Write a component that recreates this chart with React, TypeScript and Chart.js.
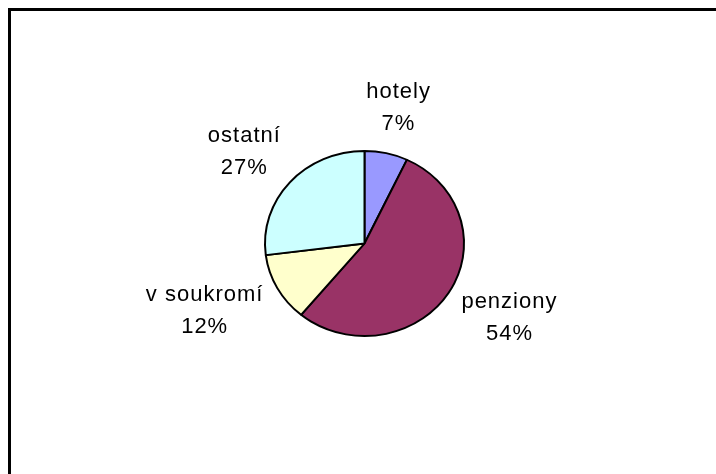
import React, { useEffect, useRef } from "react";
import { Chart, registerables } from "chart.js";

Chart.register(...registerables);

// ---- data ----
const categories = ["hotely", "penziony", "v soukromí", "ostatní"];
const shares = [7, 54, 12, 27];
const sliceColors = ["#9999FF", "#993366", "#FFFFCC", "#CCFFFF"];

const Y_SQUASH = 0.93;
const LABEL_FONT = "22px 'Liberation Sans', Arial, sans-serif";

const squashPlugin = {
  id: "squash",
  beforeDatasetsDraw(chart: any) {
    const arc = chart.getDatasetMeta(0).data[0];
    if (!arc) return;
    const { x, y } = arc.getProps(["x", "y"], true);
    const ctx = chart.ctx;
    ctx.save();
    ctx.translate(x, y);
    ctx.scale(1, Y_SQUASH);
    ctx.translate(-x, -y);
  },
  afterDatasetsDraw(chart: any) {
    if (!chart.getDatasetMeta(0).data[0]) return;
    chart.ctx.restore();
  },
};

const labelPlugin = {
  id: "outLabels",
  afterDraw(chart: any) {
    const ctx = chart.ctx;
    const meta = chart.getDatasetMeta(0);
    const values: number[] = chart.data.datasets[0].data;
    const total = values.reduce((a, b) => a + b, 0);
    ctx.save();
    ctx.font = LABEL_FONT;
    try {
      (ctx as any).letterSpacing = "1px";
    } catch (e) {}
    ctx.fillStyle = "#000";
    ctx.textAlign = "center";
    ctx.textBaseline = "middle";
    meta.data.forEach((el: any, i: number) => {
      const { x, y, startAngle, endAngle, outerRadius } = el.getProps(
        ["x", "y", "startAngle", "endAngle", "outerRadius"],
        true
      );
      const mid = (startAngle + endAngle) / 2;
      const dx = Math.cos(mid);
      const dy = Math.sin(mid);
      const rx = outerRadius + 1;
      const ry = rx * Y_SQUASH;
      const lines = [
        String(chart.data.labels[i]),
        Math.round((values[i] / total) * 100) + "%",
      ];
      const w = Math.max(...lines.map((l) => ctx.measureText(l).width));
      const h = 48;
      const k = 1.23;
      const cx = x + dx * rx * k + (dx * w) / 2;
      const cy = y + dy * ry * k + (dy * h) / 2;
      ctx.fillText(lines[0], cx, cy - 16);
      ctx.fillText(lines[1], cx, cy + 16);
    });
    ctx.restore();
  },
};

const framePlugin = {
  id: "frame",
  afterDraw(chart: any) {
    const ctx = chart.ctx;
    ctx.save();
    ctx.strokeStyle = "#000";
    ctx.lineWidth = 3;
    ctx.strokeRect(9.5, 9.5, 900, 700);
    ctx.restore();
  },
};

export default function App() {
  const ref = useRef<HTMLCanvasElement | null>(null);
  useEffect(() => {
    if (!ref.current) return;
    const chart = new Chart(ref.current, {
      type: "pie",
      data: {
        labels: categories,
        datasets: [
          {
            data: shares,
            backgroundColor: sliceColors,
            borderColor: "#000",
            borderWidth: 2,
            clip: false as any,
          },
        ],
      },
      options: {
        responsive: false,
        animation: false,
        events: [],
        layout: { padding: { left: 264, right: 251, top: 143, bottom: 130 } },
        plugins: {
          legend: { display: false },
          tooltip: { enabled: false },
          title: { display: false },
        },
      },
      plugins: [squashPlugin, labelPlugin, framePlugin],
    });
    return () => chart.destroy();
  }, []);
  return (
    <div style={{ position: "absolute", left: 0, top: 0, width: 716, height: 474, background: "#fff" }}>
      <canvas ref={ref} width={716} height={474} style={{ display: "block", width: 716, height: 474 }} />
    </div>
  );
}
